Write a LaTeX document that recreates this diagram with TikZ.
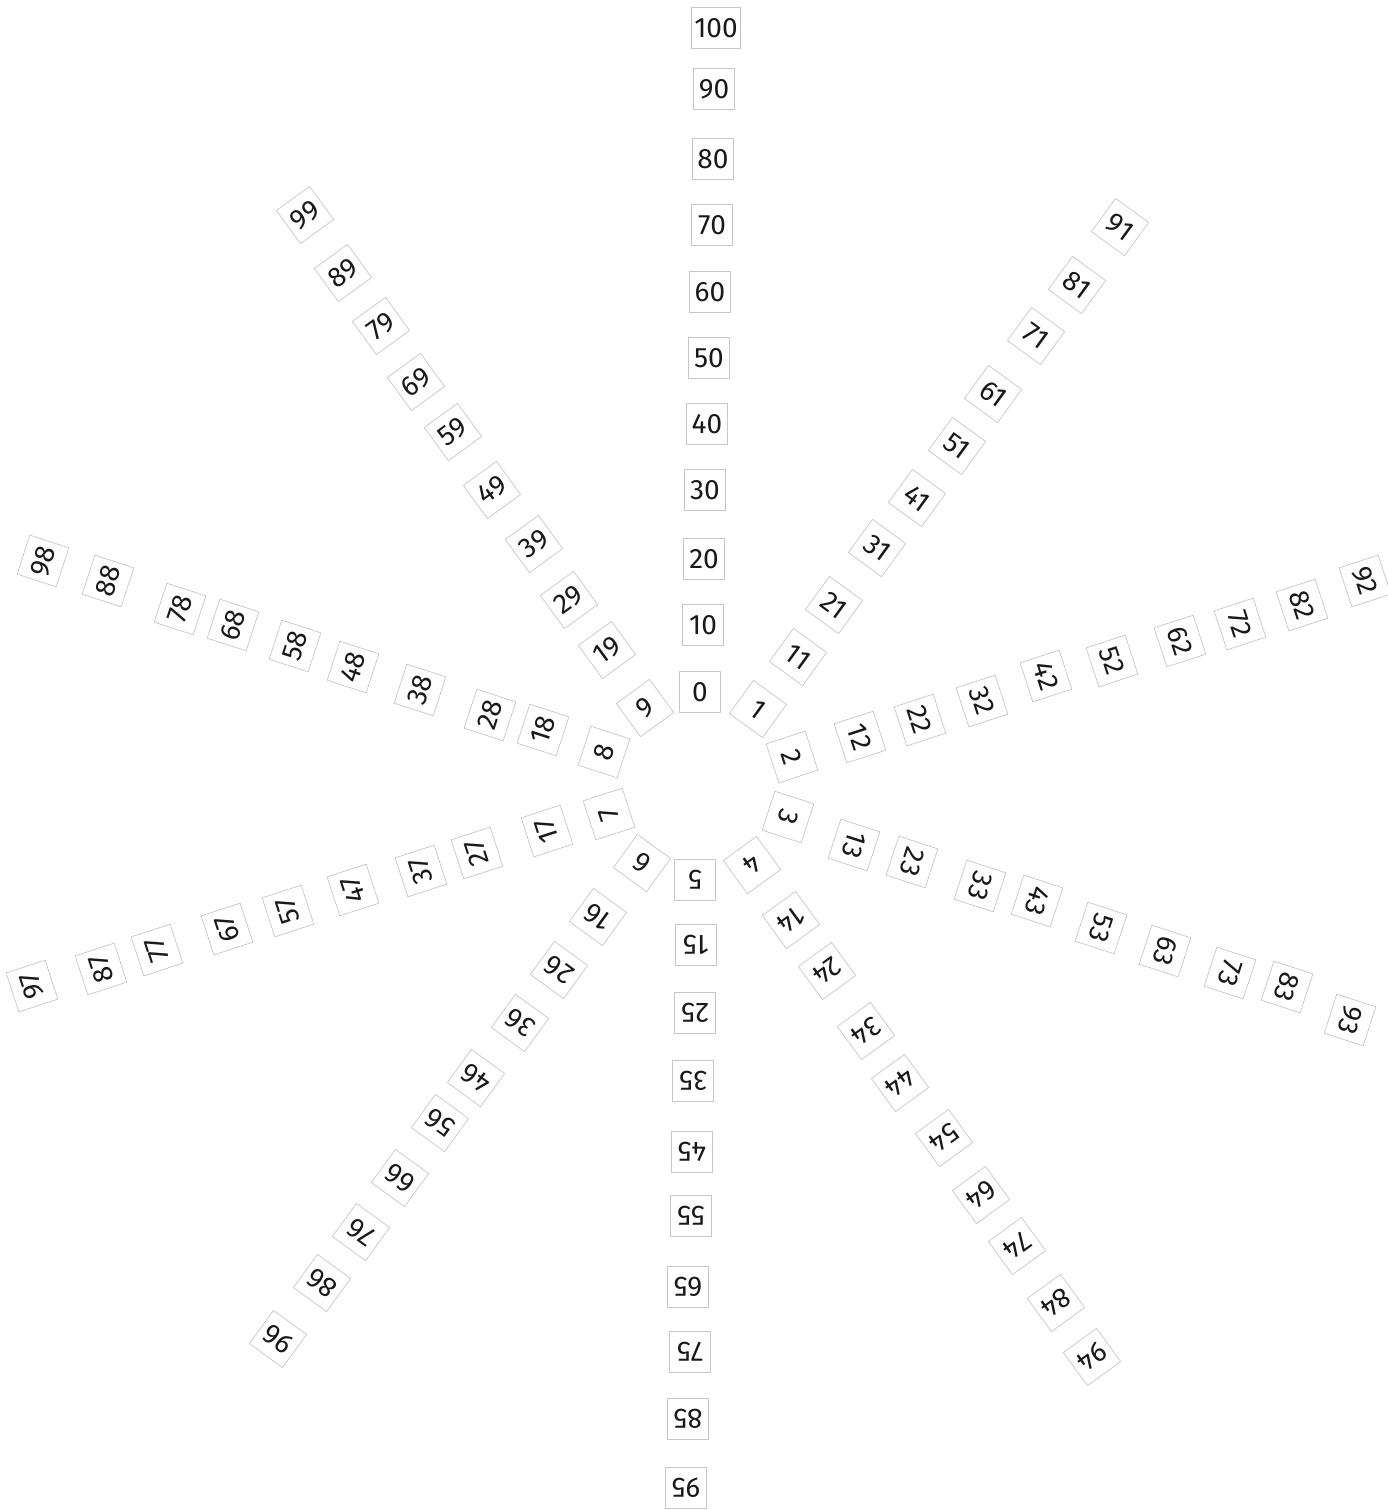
\documentclass[tikz,border=0pt]{standalone}
\usepackage{fontspec}
\setmainfont{Fira Sans}
\begin{document}
\begin{tikzpicture}[x=1pt,y=-1pt,
  numbox/.style={draw=black!22, line width=0.7pt, fill=white, text=black!90,
    minimum width=41pt, minimum height=41pt, inner sep=3pt,
    font=\fontsize{28}{28}\selectfont}]
\useasboundingbox (0,0) rectangle (1388,1510);
\foreach \n/\x/\y in {
 0/700/692, 10/703/625, 20/704/559, 30/705/490, 40/707/424, 50/709/358, 60/710/292, 70/712/225, 80/713/159, 90/714/89, 100/716/28,
 1/758/709, 11/798/657, 21/834/605, 31/877/548, 41/917/498, 51/957/446, 61/993/394, 71/1036/336, 81/1077/285, 91/1120/227,
 2/792/757, 12/860/737, 22/920/720, 32/982/701, 42/1046/676, 52/1112/661, 62/1180/641, 72/1240/624, 82/1302/605, 92/1365/581,
 3/788/817, 13/854/845, 23/912/862, 33/980/886, 43/1037/901, 53/1101/928, 63/1165/951, 73/1230/973, 83/1287/987, 93/1350/1020,
 4/752/865, 14/791/920, 24/827/971, 34/866/1031, 44/900/1083, 54/944/1138, 64/981/1195, 74/1017/1246, 84/1056/1303, 94/1092/1357,
 5/695/880, 15/696/945, 25/695/1013, 35/693/1081, 45/692/1152, 55/691/1216, 65/688/1287, 75/690/1352, 85/688/1419, 95/686/1488,
 6/642/863, 16/598/917, 26/559/970, 36/520/1023, 46/476/1078, 56/440/1123, 66/400/1178, 76/361/1232, 86/322/1283, 96/278/1339,
 7/609/814, 17/547/831, 27/477/853, 37/421/871, 47/353/890, 57/288/911, 67/227/929, 77/157/950, 87/101/969, 97/32/986,
 8/604/752, 18/543/730, 28/490/715, 38/420/690, 48/353/667, 58/295/646, 68/233/625, 78/180/609, 88/108/581, 98/43/561,
 9/645/708, 19/607/650, 29/569/600, 39/534/544, 49/492/490, 59/453/432, 69/416/382, 79/381/326, 89/343/273, 99/305/215}
{
  \pgfmathtruncatemacro{\d}{mod(\n,10)}
  \node[numbox, rotate=-36*\d] (n\n) at (\x,\y) {\n};
}
\end{tikzpicture}
\end{document}
